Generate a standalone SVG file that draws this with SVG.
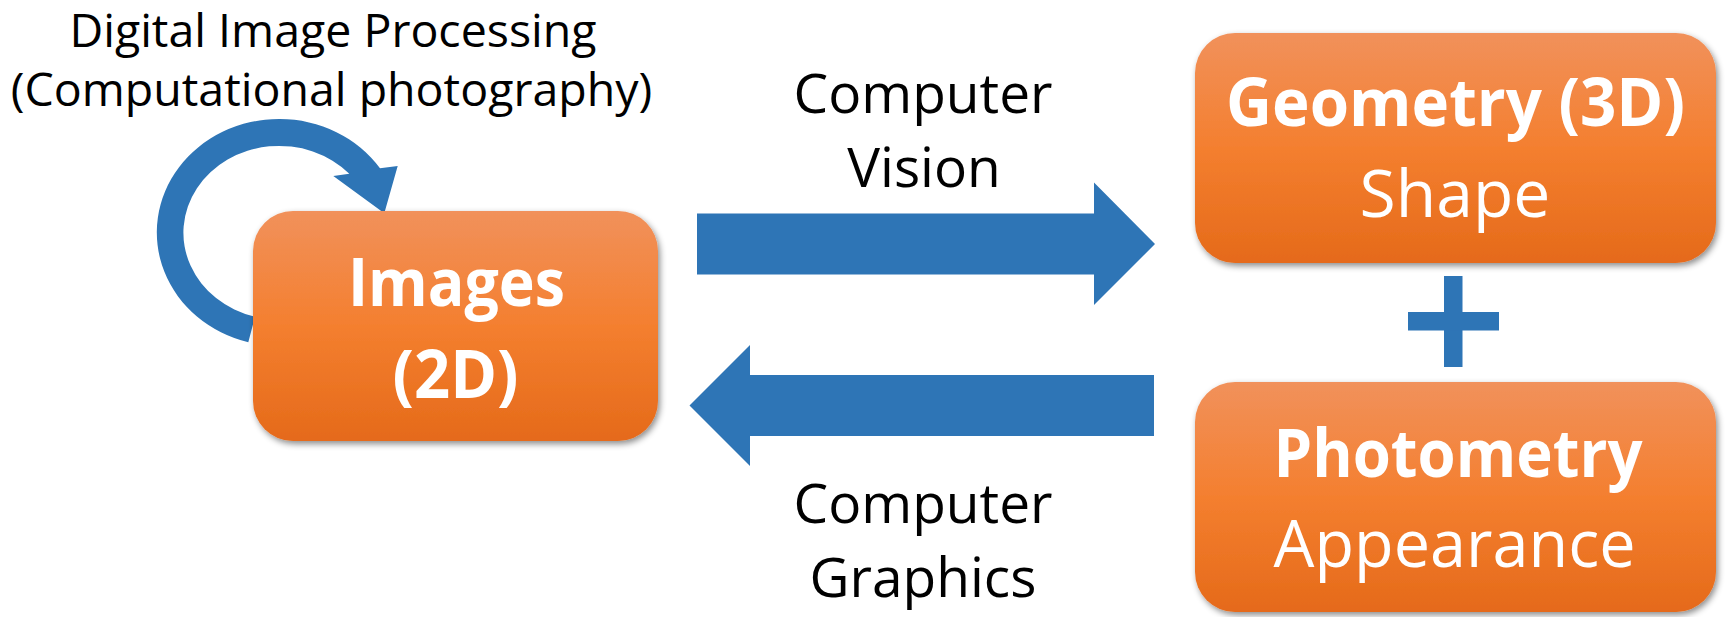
<svg xmlns="http://www.w3.org/2000/svg" width="1725" height="617" viewBox="0 0 1725 617">
  <defs>
    <linearGradient id="boxFill" x1="0" y1="0" x2="0" y2="1">
      <stop offset="0" stop-color="#F1915B"/>
      <stop offset="0.5" stop-color="#F47F2F"/>
      <stop offset="1" stop-color="#E56A1A"/>
    </linearGradient>
    <filter id="shadow" x="-5%" y="-5%" width="112%" height="115%">
      <feDropShadow dx="2" dy="3" stdDeviation="3" flood-color="#000" flood-opacity="0.45"/>
    </filter>
  </defs>
  <style>
    .box { fill: url(#boxFill); filter: url(#shadow); }
    .blue { fill: #2E75B6; }
    .label { font-family: "Open Sans", "Liberation Sans", sans-serif; fill: #000; text-anchor: middle; }
    .in { font-family: "Open Sans", "Liberation Sans", sans-serif; fill: #fff; text-anchor: middle; font-size: 66px; }
    .b { font-weight: bold; }
  </style>

  <!-- captions -->
  <g id="caption-processing">
    <text class="label" x="333" y="46.5" font-size="46.5">Digital Image Processing</text>
    <text class="label" x="331.5" y="105.5" font-size="46.5">(Computational photography)</text>
  </g>
  <g id="caption-vision">
    <text class="label" x="923" y="113" font-size="55">Computer</text>
    <text class="label" x="924" y="186.5" font-size="55">Vision</text>
  </g>
  <g id="caption-graphics">
    <text class="label" x="923" y="523" font-size="55">Computer</text>
    <text class="label" x="923" y="596.5" font-size="55">Graphics</text>
  </g>

  <!-- connectors -->
  <g id="connectors">
    <!-- self loop on Images -->
    <path class="blue" d="M 248.3 342.3 A 122.3 113.5 0 1 1 380 168.3 L 397.7 166 L 384.3 213.3 L 333.3 176 L 349.3 173.7 A 95.7 86.8 0 1 0 255 316.7 Z"/>
    <!-- Images to 3D -->
    <polygon class="blue" points="697,213.5 1094,213.5 1094,182.5 1155,244 1094,305 1094,274.5 697,274.5"/>
    <!-- 3D to Images -->
    <polygon class="blue" points="1154,375 750,375 750,345 689.5,405.5 750,466 750,436 1154,436"/>
  </g>

  <!-- nodes -->
  <g id="images">
    <rect class="box" x="253" y="211" width="405" height="230" rx="40"/>
    <text class="in b" x="456.5" y="306" textLength="217" lengthAdjust="spacingAndGlyphs">Images</text>
    <text class="in b" x="455.5" y="398" textLength="126" lengthAdjust="spacingAndGlyphs">(2D)</text>
  </g>
  <g id="geometry">
    <rect class="box" x="1195" y="33" width="521" height="230" rx="40"/>
    <text class="in b" x="1455.5" y="126" textLength="459" lengthAdjust="spacingAndGlyphs">Geometry (3D)</text>
    <text class="in" x="1455" y="216.5">Shape</text>
  </g>
  <g id="plus">
    <rect class="blue" x="1444" y="276" width="18.5" height="91"/>
    <rect class="blue" x="1408" y="312" width="91" height="18.5"/>
  </g>
  <g id="photometry">
    <rect class="box" x="1195" y="382" width="521" height="230" rx="40"/>
    <text class="in b" x="1458" y="476.5" textLength="369" lengthAdjust="spacingAndGlyphs">Photometry</text>
    <text class="in" x="1454.5" y="566.5" textLength="362" lengthAdjust="spacingAndGlyphs">Appearance</text>
  </g>
</svg>
